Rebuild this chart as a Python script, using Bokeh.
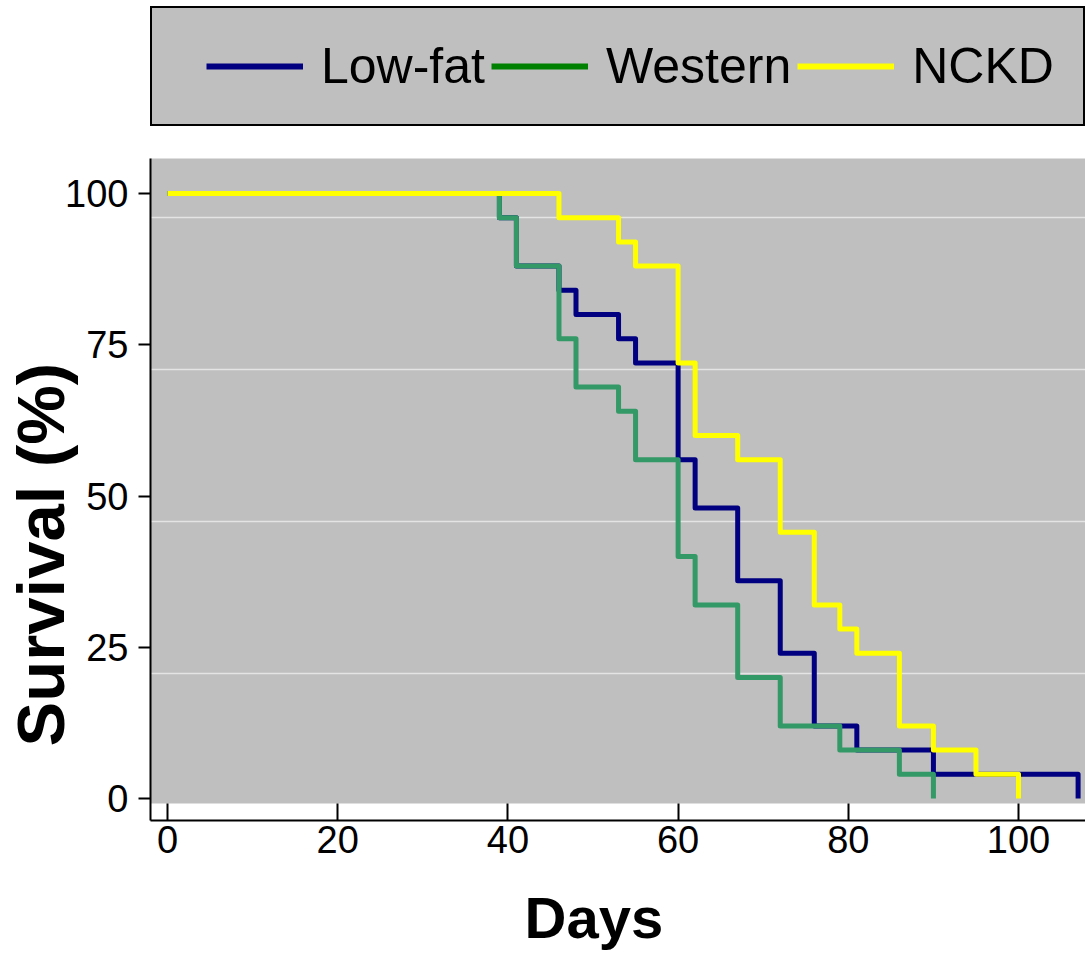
from bokeh.plotting import figure
from bokeh.layouts import column
from bokeh.models import Range1d, FixedTicker, BoxAnnotation, Legend, LegendItem
from bokeh.embed import file_html
from bokeh.resources import INLINE

# ---------------- data ----------------
series_names = ["Low-fat", "Western", "NCKD"]

lowfat_days = [0, 39, 41, 46, 48, 53, 55, 60, 62, 67, 72, 76, 81, 90, 107]
lowfat_surv = [100, 96, 88, 84, 80, 76, 72, 56, 48, 36, 24, 12, 8, 4, 0]

western_days = [0, 39, 41, 46, 48, 53, 55, 60, 62, 67, 72, 79, 86, 90]
western_surv = [100, 96, 88, 76, 68, 64, 56, 40, 32, 20, 12, 8, 4, 0]

nckd_days = [0, 46, 53, 55, 60, 62, 67, 72, 76, 79, 81, 86, 90, 95, 100]
nckd_surv = [100, 96, 92, 88, 72, 60, 56, 44, 32, 28, 24, 12, 8, 4, 0]

x_ticks = [0, 20, 40, 60, 80, 100]
y_ticks = [0, 25, 50, 75, 100]

x_title = "Days"
y_title = "Survival (%)"

# ---------------- style ----------------
FONT = "Liberation Sans"
PANEL = "#bfbfbf"
NBSP = "\u00a0"
line_colors = ["#000080", "#339966", "#ffff00"]
legend_colors = ["#000080", "#008000", "#ffff00"]
grid_vals = [96.03, 70.91, 45.79, 20.66]
W = 1085

series = [(lowfat_days, lowfat_surv), (western_days, western_surv), (nckd_days, nckd_surv)]

# ---------------- legend strip ----------------
pl = figure(width=W, height=158, x_axis_type=None, y_axis_type=None,
            output_backend="svg", toolbar_location=None,
            min_border_left=150, min_border_right=0, min_border_top=0, min_border_bottom=0)
pl.outline_line_color = None
pl.background_fill_color = "white"
pl.border_fill_color = "white"
pl.grid.visible = False

# single-point proxies: nothing is drawn, they only provide the legend keys
proxies = [pl.line(x=[d[0]], y=[s[0]], line_color=c, line_width=6)
           for (d, s), c in zip(series, legend_colors)]
legend = Legend(items=[LegendItem(label=n, renderers=[r]) for n, r in zip(series_names, proxies)],
                orientation="horizontal", location=(0, 32),
                padding=29, spacing=6, margin=0,
                glyph_width=97, glyph_height=56, label_height=56, label_standoff=18,
                label_text_font=FONT, label_text_font_size="50px", label_text_color="black",
                border_line_color="black", border_line_width=2, border_line_alpha=1.0,
                background_fill_color=PANEL, background_fill_alpha=1.0,
                title=" ", title_location="left", title_text_font_size="17px", title_standoff=5)
pl.add_layout(legend)

# ---------------- main plot ----------------
p = figure(width=W, height=804,
           x_range=Range1d(-1.998, 107.87), y_range=Range1d(-3.636, 105.785),
           output_backend="svg", toolbar_location=None,
           min_border_left=150, min_border_right=0,
           min_border_top=0, min_border_bottom=142)
p.outline_line_color = None
p.background_fill_color = PANEL
p.border_fill_color = "white"

# white strip between panel bottom and x axis line
p.add_layout(BoxAnnotation(top=-0.826, fill_color="white", fill_alpha=1.0,
                           line_alpha=0, level="underlay"))

for ax in (p.xaxis[0], p.yaxis[0]):
    ax.axis_line_color = "black"
    ax.axis_line_width = 2
    ax.major_tick_line_color = "black"
    ax.major_tick_line_width = 2
    ax.minor_tick_line_color = None
    ax.major_label_text_font = FONT
    ax.major_label_text_font_size = "38px"
    ax.major_label_text_color = "black"
    ax.axis_label_text_font = FONT
    ax.axis_label_text_font_style = "bold"
    ax.axis_label_text_color = "black"

p.xaxis.ticker = FixedTicker(ticks=x_ticks)
p.xaxis.major_tick_in = 17
p.xaxis.major_tick_out = 0
p.xaxis.major_label_standoff = 5
p.xaxis.axis_label = x_title + NBSP * 3
p.xaxis.axis_label_text_font_size = "58px"
p.xaxis.axis_label_standoff = 29

p.yaxis.ticker = FixedTicker(ticks=y_ticks)
p.yaxis.major_tick_in = 0
p.yaxis.major_tick_out = 12
p.yaxis.major_label_standoff = 10
p.yaxis.axis_label = y_title + NBSP * 7
p.yaxis.axis_label_text_font_size = "67px"
p.yaxis.axis_label_standoff = -16

p.xgrid.visible = False
p.ygrid.ticker = FixedTicker(ticks=grid_vals)
p.ygrid.grid_line_color = "#e4e4e4"
p.ygrid.grid_line_width = 1.5

# survival curves
for (d, s), c in zip(series, line_colors):
    p.step(x=d, y=s, mode="after", line_color=c, line_width=5, line_join="round")

open("out.html", "w").write(file_html(column(pl, p, spacing=0), INLINE))
